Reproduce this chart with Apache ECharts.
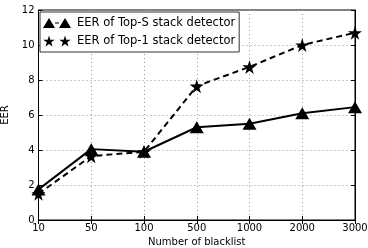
<!DOCTYPE html>
<html><head><meta charset="utf-8">
<script src="https://cdn.jsdelivr.net/npm/echarts@6/dist/echarts.min.js"></script>
<style>html,body{margin:0;padding:0;background:#fff}#c{width:368px;height:248px}</style>
</head><body><div id="c"></div>
<script>
var categories = ['10','50','100','500','1000','2000','3000'];
var topS = [1.75, 4.05, 3.9, 5.3, 5.5, 6.1, 6.45];
var top1 = [1.5, 3.65, 3.9, 7.65, 8.75, 10.0, 10.7];
var yTicks = [0, 2, 4, 6, 8, 10, 12];
var seriesNames = ['EER of Top-S stack detector', 'EER of Top-1 stack detector'];

var STAR = 'path://M50,0 L61,35 L98,35 L68,57 L79,91 L50,70 L21,91 L32,57 L2,35 L39,35 Z';
var TRI_LEG = 'path://M0,10 L6,0 L12,10 Z M12,4.5 L16,4.5 L16,5.5 L12,5.5 Z M16,10 L22,0 L28,10 Z';
var STAR_LEG = 'path://M6,0 L7.3,4.2 L11.8,4.2 L8.2,6.8 L9.5,11 L6,8.4 L2.5,11 L3.8,6.8 L0.2,4.2 L4.7,4.2 Z M22,0 L23.3,4.2 L27.8,4.2 L24.2,6.8 L25.5,11 L22,8.4 L18.5,11 L19.8,6.8 L16.2,4.2 L20.7,4.2 Z';
var font = 'DejaVu Sans';
var chart = echarts.init(document.getElementById('c'));
chart.setOption({
  animation: false,
  textStyle: {fontFamily: font},
  grid: {left: 38.5, right: 13, top: 10, bottom: 28, show: true, borderColor: '#000', borderWidth: 1,
         outerBoundsMode: 'none', containLabel: false},
  legend: {
    orient: 'vertical', left: 40, top: 12, padding: [5, 4, 5, 3], itemGap: 6,
    itemWidth: 28, itemHeight: 11, borderColor: '#333', borderWidth: 1, backgroundColor: '#fff',
    textStyle: {fontFamily: font, fontSize: 11.5, color: '#000', padding: [0, 0, 0, 1]},
    data: [{name: seriesNames[0], icon: TRI_LEG}, {name: seriesNames[1], icon: STAR_LEG}]
  },
  xAxis: [{
    type: 'category', data: categories, boundaryGap: false,
    name: 'Number of blacklist', nameLocation: 'middle', nameGap: 17,
    nameTextStyle: {fontFamily: font, fontSize: 10, color: '#000'},
    axisLine: {lineStyle: {color: '#000'}},
    axisTick: {inside: true, length: 4, lineStyle: {color: '#000'}},
    axisLabel: {fontFamily: font, fontSize: 10, color: '#000', margin: 3},
    splitLine: {show: true, lineStyle: {type: [1, 3], color: '#999'}}
  }, {
    type: 'category', data: categories, boundaryGap: false, position: 'top',
    axisLine: {lineStyle: {color: '#000'}},
    axisTick: {inside: true, length: 4, lineStyle: {color: '#000'}},
    axisLabel: {show: false}, splitLine: {show: false}
  }],
  yAxis: [{
    type: 'value', min: 0, max: 12, interval: 2,
    name: 'EER', nameLocation: 'middle', nameGap: 24,
    nameTextStyle: {fontFamily: font, fontSize: 10, color: '#000'},
    axisLine: {show: true, lineStyle: {color: '#000'}},
    axisTick: {show: true, inside: true, length: 4, lineStyle: {color: '#000'}},
    axisLabel: {fontFamily: font, fontSize: 10, color: '#000', margin: 4,
      formatter: function (v) { return yTicks.indexOf(v) >= 0 ? String(v) : ''; }},
    splitLine: {show: true, lineStyle: {type: [1, 3], color: '#999'}}
  }, {
    type: 'value', min: 0, max: 12, interval: 2, position: 'right',
    axisLine: {show: true, lineStyle: {color: '#000'}},
    axisTick: {show: true, inside: true, length: 4, lineStyle: {color: '#000'}},
    axisLabel: {show: false}, splitLine: {show: false}
  }],
  series: [{
    name: seriesNames[0], type: 'line', data: topS,
    symbol: 'triangle', symbolSize: [14, 12], symbolKeepAspect: true,
    lineStyle: {color: '#000', width: 2}, itemStyle: {color: '#000'}, z: 3
  }, {
    name: seriesNames[1], type: 'line', data: top1,
    symbol: STAR, symbolSize: 14,
    lineStyle: {color: '#000', width: 2, type: [6, 4]}, itemStyle: {color: '#000'}, z: 2
  }]
});
</script></body></html>
